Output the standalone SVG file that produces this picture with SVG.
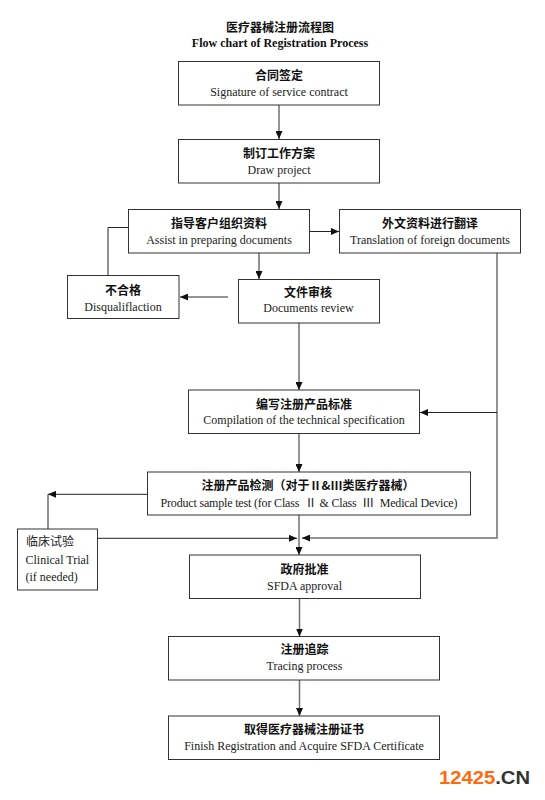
<svg xmlns="http://www.w3.org/2000/svg" width="545" height="800" viewBox="0 0 545 800">
<defs>
<style>
.box{fill:#fff;stroke:#333;stroke-width:1}
.zh{font-family:"Noto Sans CJK SC","Liberation Serif",serif;font-size:12px;font-weight:bold;fill:#111;text-anchor:middle}
.zhr{font-family:"Noto Sans CJK SC","Liberation Serif",serif;font-size:12px;fill:#222}
.en{font-family:"Liberation Serif","Noto Sans CJK SC",serif;font-size:12px;fill:#222;text-anchor:middle}
.enl{font-family:"Liberation Serif",serif;font-size:12px;fill:#222}
.c{fill:none;stroke:#222;stroke-width:1}
.g{fill:none;stroke:#707070;stroke-width:1.5}
</style>
<marker id="ah" markerWidth="8" markerHeight="7" refX="8" refY="3.5" orient="auto" markerUnits="userSpaceOnUse">
<path d="M0,0 L8,3.5 L0,7 z" fill="#111"/>
</marker>
</defs>
<rect width="545" height="800" fill="#fff"/>
<g id="title">
<text class="zh" x="280" y="31.5">医疗器械注册流程图</text>
<text x="280" y="46.5" style="font-family:'Liberation Serif',serif;font-size:12px;font-weight:bold;fill:#111;text-anchor:middle">Flow chart of Registration Process</text>
</g>
<g id="connectors">
<path class="g" d="M279,105 V139" marker-end="url(#ah)"/>
<path class="g" d="M279,183 V209" marker-end="url(#ah)"/>
<path class="c" d="M309,231.5 H339" marker-end="url(#ah)"/>
<path class="c" d="M128,227.5 H108 V275"/>
<path class="c" d="M259,253 V279" marker-end="url(#ah)"/>
<path class="g" d="M228,297 H180" marker-end="url(#ah)"/>
<path class="g" d="M299,323 V390" marker-end="url(#ah)"/>
<path class="g" d="M497,253 V538 H302" marker-end="url(#ah)"/>
<path class="c" d="M497,412.5 H420" marker-end="url(#ah)"/>
<path class="g" d="M299,433.5 V472" marker-end="url(#ah)"/>
<path class="c" d="M147.5,494.3 H48" marker-end="url(#ah)"/>
<path class="c" d="M48,494.3 V529"/>
<path class="c" d="M97.5,538.3 H297" marker-end="url(#ah)"/>
<path class="g" d="M299,515 V555" marker-end="url(#ah)"/>
<path class="g" d="M299.5,598.5 V636.5" marker-end="url(#ah)"/>
<path class="g" d="M299.5,680 V716" marker-end="url(#ah)"/>
</g>
<g id="n1">
<rect class="box" x="178.5" y="61.5" width="201" height="43.5"/>
<text class="zh" x="279" y="80">合同签定</text>
<text class="en" x="279" y="95.5">Signature of service contract</text>
</g>
<g id="n2">
<rect class="box" x="178.5" y="139.5" width="201" height="43.5"/>
<text class="zh" x="279" y="157.5">制订工作方案</text>
<text class="en" x="279" y="173.5">Draw project</text>
</g>
<g id="n3">
<rect class="box" x="128.5" y="209.5" width="181" height="43.5"/>
<text class="zh" x="219" y="227.5">指导客户组织资料</text>
<text class="en" x="219" y="243.5">Assist in preparing documents</text>
</g>
<g id="n4">
<rect class="box" x="339.5" y="209.5" width="181" height="43.5"/>
<text class="zh" x="430" y="227.5">外文资料进行翻译</text>
<text class="en" x="430" y="243.5">Translation of foreign documents</text>
</g>
<g id="n5">
<rect class="box" x="67.5" y="275.5" width="111.5" height="43"/>
<text class="zh" x="123" y="294.5">不合格</text>
<text class="en" x="123" y="310.5">Disqualiflaction</text>
</g>
<g id="n6">
<rect class="box" x="238.5" y="279.5" width="141" height="43.5"/>
<text class="zh" x="308" y="297">文件审核</text>
<text class="en" x="308.5" y="312">Documents review</text>
</g>
<g id="n7">
<rect class="box" x="188.5" y="390" width="231" height="43.5"/>
<text class="zh" x="304" y="408.5">编写注册产品标准</text>
<text class="en" x="304" y="424">Compilation of the technical specification</text>
</g>
<g id="n8">
<rect class="box" x="147.5" y="472" width="323" height="43"/>
<text class="zh" x="308" y="490">注册产品检测（对于Ⅱ&amp;Ⅲ类医疗器械）</text>
<text class="en" x="309" y="506.5" xml:space="preserve" style="white-space:pre" textLength="297" lengthAdjust="spacing">Product sample test (for Class  Ⅱ &amp; Class  Ⅲ  Medical Device)</text>
</g>
<g id="n9">
<rect class="box" x="17.5" y="529" width="80" height="61"/>
<text class="zhr" x="26" y="546">临床试验</text>
<text class="enl" x="25.5" y="563.5">Clinical Trial</text>
<text class="enl" x="25.5" y="580.5">(if needed)</text>
</g>
<g id="n10">
<rect class="box" x="189.5" y="555" width="231" height="43.5"/>
<text class="zh" x="304.5" y="573.5">政府批准</text>
<text class="en" x="304.5" y="589.5">SFDA approval</text>
</g>
<g id="n11">
<rect class="box" x="168.5" y="636.5" width="271" height="43.5"/>
<text class="zh" x="304.5" y="653.5">注册追踪</text>
<text class="en" x="304.5" y="669.5">Tracing process</text>
</g>
<g id="n12">
<rect class="box" x="168.5" y="716" width="271" height="43.5"/>
<text class="zh" x="304" y="733.5">取得医疗器械注册证书</text>
<text class="en" x="304" y="749.5">Finish Registration and Acquire SFDA Certificate</text>
</g>
<g id="watermark">
<text x="439" y="783.5" textLength="91" lengthAdjust="spacingAndGlyphs" style="font-family:'Liberation Sans',sans-serif;font-size:18px;font-weight:bold"><tspan fill="#ff6a0d">12425</tspan><tspan fill="#333">.CN</tspan></text>
</g>
</svg>
